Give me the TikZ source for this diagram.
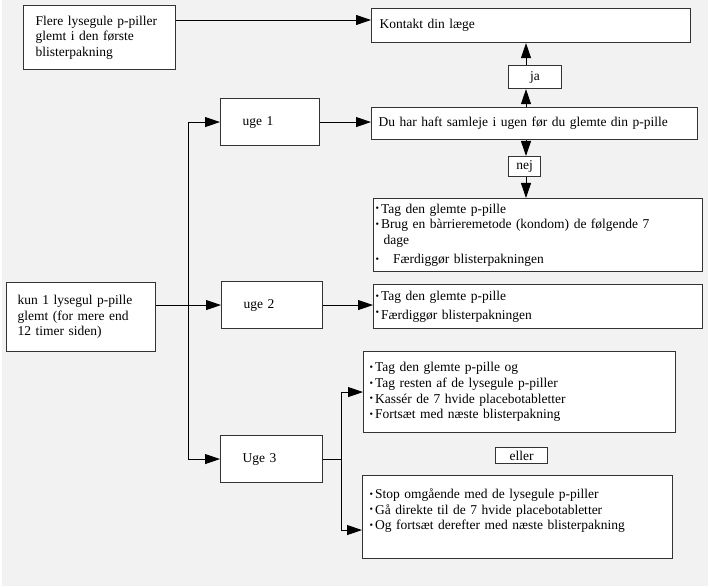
\documentclass[tikz,border=0pt]{standalone}
\usepackage{fontspec}
\setmainfont{Liberation Serif}
\usepackage{tikz}
\usetikzlibrary{arrows.meta,positioning,calc}

\newcommand{\bul}{\raisebox{0.2ex}{\fontsize{10}{10}\selectfont\textbullet}\hspace{2pt}}

\begin{document}
\begin{tikzpicture}[x=1pt,y=-1pt,
        box/.style={draw=black!80, line width=1.1pt, fill=white, anchor=north west,
            align=left, inner ysep=0pt, font=\fontsize{13.5}{15.7}\selectfont},
        tag/.style={draw=black!80, line width=1.1pt, fill=white, anchor=north west,
            align=center, inner sep=0pt, font=\fontsize{13.5}{15.7}\selectfont},
        arr/.style={line width=0.9pt, -{Triangle[length=15pt,width=10pt]}},
        line/.style={line width=0.9pt}
    ]
    \fill[white] (0,0) rectangle (710,588);
    \useasboundingbox (0,0) rectangle (710,588);
    \fill[black!5] (2,0) rectangle (708,586);

    % boxes
    \node[box, minimum width=152, minimum height=64, inner xsep=12pt, text width=128pt] (flere) at (23,5)
        {Flere lysegule p-piller\\ glemt i den første\\ blisterpakning};
    \node[box, minimum width=319, minimum height=34, inner xsep=8pt, text width=303pt] (kontakt) at (371,8)
        {Kontakt din læge};
    \node[tag, minimum width=53, minimum height=23] (ja) at (508,65) {ja};
    \node[box, minimum width=326, minimum height=32, inner xsep=7pt, text width=312pt] (duhar) at (371,107)
        {Du har haft samleje i ugen før du glemte din p-pille};
    \node[tag, minimum width=32, minimum height=20] (nej) at (508,156) {nej};
    \node[box, minimum width=329, minimum height=73, inner xsep=2pt, text width=325pt] (tag1) at (373,198)
        {\bul Tag den glemte p-pille\\
         \bul Brug en bàrrieremetode (kondom) de følgende 7\\
         \hspace{8pt}dage\\[3pt]
         \bul\hspace{12pt}Færdiggør blisterpakningen};
    \node[box, minimum width=149, minimum height=69, inner xsep=11pt, text width=127pt] (kun) at (6,282)
        {kun 1 lysegul p-pille\\ glemt (for mere end\\ 12 timer siden)};
    \node[box, minimum width=99, minimum height=47, inner xsep=22pt, text width=55pt] (uge1) at (220,98) {uge 1};
    \node[box, minimum width=101, minimum height=47, inner xsep=22pt, text width=57pt] (uge2) at (221,281) {uge 2};
    \node[box, minimum width=102, minimum height=47, inner xsep=22pt, text width=58pt] (uge3) at (220,435) {Uge 3};
    \node[box, minimum width=329, minimum height=44, inner xsep=2pt, text width=325pt] (tag2) at (373,284)
        {\bul Tag den glemte p-pille\\[3pt]
         \raisebox{0.4ex}{\bul}Færdiggør blisterpakningen};
    \node[box, minimum width=312, minimum height=81, inner xsep=6pt, text width=300pt] (tag3) at (363,351)
        {\bul Tag den glemte p-pille og\\
         \bul Tag resten af de lysegule p-piller\\
         \bul Kassér de 7 hvide placebotabletter\\
         \bul Fortsæt med næste blisterpakning};
    \node[tag, minimum width=52, minimum height=16] (eller) at (495,447) {eller};
    \node[box, minimum width=310, minimum height=83, inner xsep=7pt, text width=296pt] (stop) at (362,475)
        {\bul Stop omgående med de lysegule p-piller\\
         \bul Gå direkte til de 7 hvide placebotabletter\\
         \bul Og fortsæt derefter med næste blisterpakning\\ ~};

    \coordinate (vx) at (526,0);
    \coordinate (trunk) at (188,0);
    \coordinate (fork) at (341,0);

    % connectors
    \draw[arr] ([yshift=-15pt]flere.north east) -- ([yshift=-12pt]kontakt.north west);
    \draw[arr] (vx |- duhar.north) -- (vx |- ja.south);
    \draw[arr] (vx |- ja.north) -- (vx |- kontakt.south);
    \draw[arr] (vx |- duhar.south) -- (vx |- nej.north);
    \draw[arr] (vx |- nej.south) -- (vx |- tag1.north);
    \draw[arr] (uge2.west -| kun.east) -- (uge2.west);
    \draw[arr] (trunk |- uge1.west) -- (uge1.west);
    \draw[arr] (trunk |- uge1.west) |- (uge3.west);
    \draw[arr] (uge1.east) -- (uge1.east -| duhar.west);
    \draw[arr] (uge2.east) -- (uge2.east -| tag2.west);
    \draw[line] (uge3.east) -- (uge3.east -| fork);
    \draw[arr] (tag3.west -| fork) -- (tag3.west);
    \draw[arr] (tag3.west -| fork) |- ([yshift=-13pt]stop.west);
\end{tikzpicture}
\end{document}
